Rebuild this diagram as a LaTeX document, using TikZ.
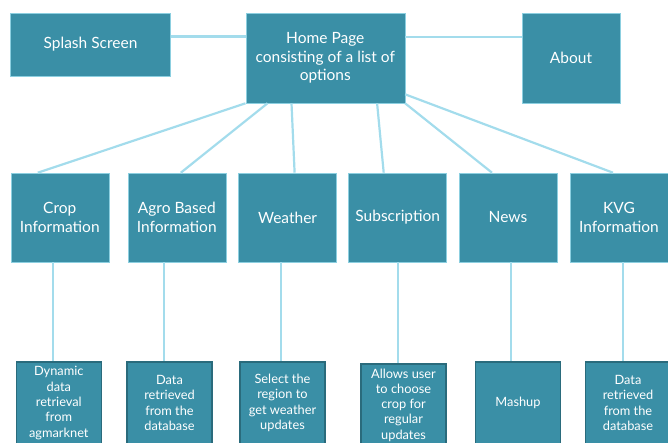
\documentclass[tikz,border=0pt]{standalone}
\usepackage{fontspec}
\setmainfont{Lato}
\definecolor{boxteal}{HTML}{3A8FA6}
\definecolor{linkblue}{HTML}{A3DCEC}
\definecolor{boxedge}{HTML}{2A6B7C}
\definecolor{lightedge}{HTML}{8CCFE0}
\begin{document}
\begin{tikzpicture}[x=1pt, y=-1pt,
    topbox/.style={rectangle, fill=boxteal, draw=lightedge, line width=0.6pt, text=white, align=center, inner sep=2pt, font=\fontsize{15.5}{18.5}\selectfont},
    leafbox/.style={rectangle, fill=boxteal, draw=boxedge, line width=1.6pt, text=white, align=center, inner sep=2pt, minimum width=85pt, minimum height=82pt, font=\fontsize{12.8}{15.3}\selectfont},
    link/.style={draw=linkblue, line width=2.2pt}]

      \clip (0,0) rectangle (668,442);

      \node [topbox, minimum width=160pt, minimum height=63pt]  (splash) at (90.5,44.5) {Splash Screen};
      \node [topbox, minimum width=159pt, minimum height=90pt]  (home)   at (325.3,58)  {Home Page\\consisting of a list of\\options};
      \node [topbox, minimum width=98pt, minimum height=90pt]   (about)  at (571,58)    {About};

      \node [topbox, minimum width=98pt, minimum height=89pt]   (crop)    at (59.8,217.5)  {Crop\\Information};
      \node [topbox, minimum width=98pt, minimum height=89pt]   (agro)    at (176.8,217.5) {Agro Based\\Information};
      \node [topbox, minimum width=98pt, minimum height=89pt]   (weather) at (287.6,217.5) {Weather};
      \node [topbox, minimum width=98pt, minimum height=89pt]   (subscr)  at (397.7,217.5) {Subscription};
      \node [topbox, minimum width=98pt, minimum height=89pt]   (news)    at (508,217.5)   {News};
      \node [topbox, minimum width=98pt, minimum height=89pt]   (kvg)     at (619,217.5)   {KVG\\Information};

      \node [leafbox] (cropleaf)    at (58.8,403)  {Dynamic\\data\\retrieval\\from\\agmarknet};
      \node [leafbox] (agroleaf)    at (169.5,403) {Data\\retrieved\\from the\\database};
      \node [leafbox] (weatherleaf) at (282.5,403) {Select the\\region to\\get weather\\updates};
      \node [leafbox] (subscrleaf)  at (403.5,405) {Allows user\\to choose\\crop for\\regular\\updates};
      \node [leafbox] (newsleaf)    at (518,403)   {Mashup};
      \node [leafbox] (kvgleaf)     at (628,403)   {Data\\retrieved\\from the\\database};

      \draw [link] ([yshift=8pt]splash.east) to ([yshift=8pt]splash.east -| home.west);
      \draw [link] ([yshift=21pt]home.east) to ([yshift=21pt]home.east -| about.west);

      \draw [link] (home.south west) to ([xshift=-22pt]crop.north);
      \draw [link] ([xshift=22pt]home.south west) to ([xshift=4pt]agro.north);
      \draw [link] ([xshift=46pt]home.south west) to ([xshift=7pt]weather.north);
      \draw [link] ([xshift=-28pt]home.south east) to ([xshift=-14pt]subscr.north);
      \draw [link] (home.south east) to ([xshift=-16pt]news.north);
      \draw [link] ([yshift=9pt]home.south east) to ([xshift=-6pt]kvg.north);

      \draw [link] ([xshift=-6pt]cropleaf.north |- crop.south) to ([xshift=-6pt]cropleaf.north);
      \draw [link] ([xshift=-5.5pt]agroleaf.north |- agro.south) to ([xshift=-5.5pt]agroleaf.north);
      \draw [link] ([xshift=-1.5pt]weatherleaf.north |- weather.south) to ([xshift=-1.5pt]weatherleaf.north);
      \draw [link] ([xshift=-5.5pt]subscrleaf.north |- subscr.south) to ([xshift=-5.5pt]subscrleaf.north);
      \draw [link] ([xshift=-7pt]newsleaf.north |- news.south) to ([xshift=-7pt]newsleaf.north);
      \draw [link] ([xshift=-5pt]kvgleaf.north |- kvg.south) to ([xshift=-5pt]kvgleaf.north);
    \end{tikzpicture}
\end{document}
